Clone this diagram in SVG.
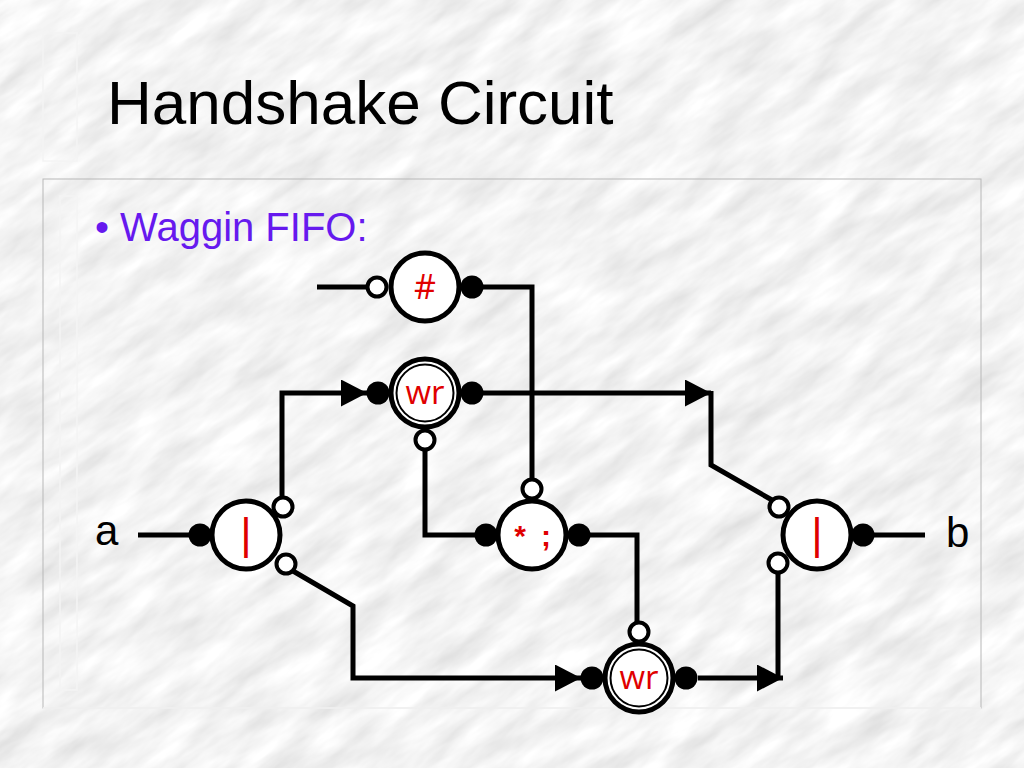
<svg xmlns="http://www.w3.org/2000/svg" width="1024" height="768" viewBox="0 0 1024 768">
<defs>
<filter id="marble" x="-400" y="-400" width="1900" height="1700" filterUnits="userSpaceOnUse">
<feTurbulence type="fractalNoise" baseFrequency="0.014 0.05" numOctaves="4" seed="7"/>
<feColorMatrix type="matrix" values="0.38 0 0 0 0.71  0.38 0 0 0 0.71  0.38 0 0 0 0.71  0 0 0 0 1"/>
</filter>
<marker id="arr" markerUnits="userSpaceOnUse" markerWidth="28" markerHeight="28" refX="26" refY="13.5" orient="auto" viewBox="0 0 28 28">
<path d="M0,0 L26,13.5 L0,27 z" fill="#000"/>
</marker>
<style>
.frame{fill:none;stroke:#f4f4f4;stroke-width:1.5}
.frame2{fill:none;stroke:#b8b8b8;stroke-width:1}
.wire{fill:none;stroke:#000;stroke-width:5}
.body{fill:#fff;stroke:#000;stroke-width:5}
.ring{fill:none;stroke:#000;stroke-width:2}
.act{fill:#000}
.pas{fill:#fff;stroke:#000;stroke-width:4}
.lbl{fill:#e00000;font-family:"Open Sans","Liberation Sans",sans-serif;text-anchor:middle}
.sym{fill:#e00000;font-family:"Liberation Sans",Arial,sans-serif;text-anchor:middle}
.io{fill:#000;font-family:"Liberation Sans",Arial,sans-serif;font-size:42px}
</style>
</defs>
<rect x="0" y="0" width="1024" height="768" fill="#e8e8e8"/>
<g transform="rotate(-35 512 384)">
<rect x="-300" y="-300" width="1624" height="1368" filter="url(#marble)"/>
</g>
<g id="frames">
<rect class="frame" x="43" y="33" width="34" height="128"/>
<rect class="frame2" x="43" y="179" width="938" height="529"/>
<line x1="43" y1="708" x2="981" y2="708" stroke="#f8f8f8" stroke-width="1.5"/>
<rect class="frame" x="60" y="196" width="17" height="494"/>
</g>
<text x="107" y="124" font-family="Liberation Sans,Arial,sans-serif" font-size="62" fill="#000">Handshake Circuit</text>
<text x="95" y="241" font-family="Liberation Sans,Arial,sans-serif" font-size="40" fill="#6619ee">• Waggin FIFO:</text>
<g id="connectors">
<path class="wire" d="M138 535 H190"/>
<path class="wire" d="M282 498 V393 H367" marker-end="url(#arr)"/>
<path class="wire" d="M293 571 L353 606 V678 H581" marker-end="url(#arr)"/>
<path class="wire" d="M317 287 H368"/>
<path class="wire" d="M483 287 H532 V480"/>
<path class="wire" d="M483 393 H711" marker-end="url(#arr)"/>
<path class="wire" d="M711 391 V465 L772 500"/>
<path class="wire" d="M425 449 V535 H476"/>
<path class="wire" d="M590 535 H637 V623"/>
<path class="wire" d="M698 678 H783" marker-end="url(#arr)"/>
<path class="wire" d="M778 680 V572"/>
<path class="wire" d="M874 535 H925"/>
</g>
<text class="io" x="95" y="545">a</text>
<text class="io" x="946" y="547">b</text>
<g id="hash">
<circle class="act" cx="472" cy="287" r="11.5"/>
<circle class="body" cx="425" cy="287" r="34"/>
<circle class="pas" cx="377" cy="287" r="9.5"/>
<text class="lbl" x="425" y="299" font-size="34">#</text>
</g>
<g id="wr-top">
<circle class="act" cx="378" cy="393" r="11.5"/>
<circle class="act" cx="472" cy="393" r="11.5"/>
<circle class="body" cx="425" cy="393" r="34"/>
<circle class="ring" cx="425" cy="393" r="28.5"/>
<circle class="pas" cx="425" cy="440" r="9.5"/>
<text class="lbl" x="425" y="404" font-size="33">wr</text>
</g>
<g id="or-left">
<circle class="act" cx="200" cy="535" r="11.5"/>
<circle class="body" cx="246" cy="535" r="34"/>
<circle class="pas" cx="283" cy="507" r="9.5"/>
<circle class="pas" cx="286" cy="564" r="9.5"/>
<text class="sym" x="246" y="549" font-size="44">|</text>
</g>
<g id="seq">
<circle class="act" cx="486" cy="535" r="11.5"/>
<circle class="act" cx="579" cy="535" r="11.5"/>
<circle class="body" cx="532" cy="535" r="34"/>
<circle class="pas" cx="532" cy="489" r="9.5"/>
<text class="sym" x="520" y="546" font-size="30" font-weight="bold">*</text>
<text class="sym" x="546" y="546" font-size="30" font-weight="bold">;</text>
</g>
<g id="wr-bottom">
<circle class="act" cx="592" cy="678" r="11.5"/>
<circle class="act" cx="686" cy="678" r="11.5"/>
<circle class="body" cx="639" cy="678" r="34"/>
<circle class="ring" cx="639" cy="678" r="28.5"/>
<circle class="pas" cx="639" cy="632" r="9.5"/>
<text class="lbl" x="639" y="689" font-size="33">wr</text>
</g>
<g id="or-right">
<circle class="act" cx="863" cy="535" r="11.5"/>
<circle class="body" cx="817" cy="535" r="34"/>
<circle class="pas" cx="779" cy="507" r="9.5"/>
<circle class="pas" cx="778" cy="563" r="9.5"/>
<text class="sym" x="817" y="549" font-size="44">|</text>
</g>
</svg>
